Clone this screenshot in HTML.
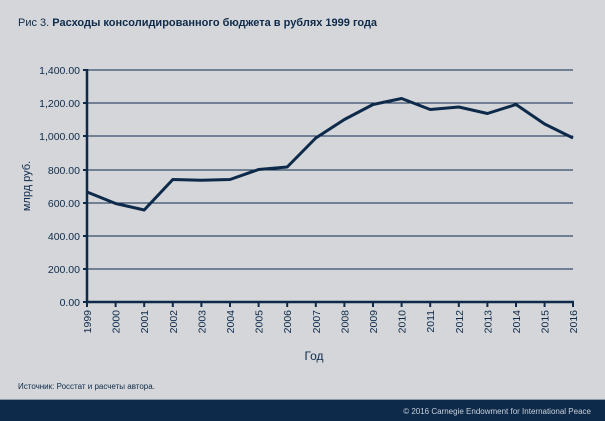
<!DOCTYPE html>
<html><head><meta charset="utf-8"><style>
body{margin:0;width:605px;height:421px;background:#d4d6d9;overflow:hidden;font-family:"Liberation Sans","DejaVu Sans",sans-serif;}
</style></head><body>
<svg width="605" height="421" xmlns="http://www.w3.org/2000/svg" style="position:absolute;left:0;top:0">
<rect width="605" height="421" fill="#d4d6d9"/>
<text x="18" y="26" font-size="11" fill="#0e2a4a">Рис 3. <tspan font-weight="bold">Расходы консолидированного бюджета в рублях 1999 года</tspan></text>
<g stroke="#0e2a4a" stroke-width="1">
<line x1="87" y1="70" x2="573" y2="70"/><line x1="87" y1="103" x2="573" y2="103"/>
<line x1="87" y1="136" x2="573" y2="136"/><line x1="87" y1="170" x2="573" y2="170"/>
<line x1="87" y1="203" x2="573" y2="203"/><line x1="87" y1="236" x2="573" y2="236"/>
<line x1="87" y1="269" x2="573" y2="269"/>
</g>
<g stroke="#0e2a4a" stroke-width="2.5" fill="none">
<line x1="87" y1="69" x2="87" y2="303"/><line x1="86" y1="302" x2="574" y2="302"/>
</g>
<g stroke="#0e2a4a" stroke-width="2">
<line x1="83" y1="70" x2="87" y2="70"/><line x1="83" y1="103" x2="87" y2="103"/><line x1="83" y1="136" x2="87" y2="136"/><line x1="83" y1="170" x2="87" y2="170"/><line x1="83" y1="203" x2="87" y2="203"/><line x1="83" y1="236" x2="87" y2="236"/><line x1="83" y1="269" x2="87" y2="269"/><line x1="83" y1="302" x2="87" y2="302"/>
</g>
<g font-size="10.5" fill="#0e2a4a" text-anchor="end">
<text x="80" y="74">1,400.00</text><text x="80" y="107">1,200.00</text><text x="80" y="140">1,000.00</text><text x="80" y="174">800.00</text><text x="80" y="207">600.00</text><text x="80" y="240">400.00</text><text x="80" y="273">200.00</text><text x="80" y="306">0.00</text>
</g>
<g id="xt" font-size="10.5" fill="#0e2a4a" text-anchor="end">
</g>
<text transform="translate(30,186) rotate(-90)" font-size="11" fill="#0e2a4a" text-anchor="middle">млрд руб.</text>
<text x="314" y="360" font-size="12" fill="#0e2a4a" text-anchor="middle">Год</text>
<text x="18" y="389" font-size="8" fill="#0e2a4a">Источник: Росстат и расчеты автора.</text>
<polyline fill="none" stroke="#0e2a4a" stroke-width="3" stroke-linejoin="round" points="87,192 115.6,203.5 144.2,210 172.8,179.5 201.4,180.3 230,179.5 258.6,169.5 287.2,167 315.8,138 344.4,119.5 373,104.5 401.6,98.5 430.2,109.5 458.8,107 487.4,113.5 516,104.5 544.6,124 573,138"/>
<rect x="0" y="400" width="605" height="21" fill="#0e2a4a"/>
<rect x="0" y="399" width="605" height="1" fill="#8a96a6"/>
<text x="591" y="414" font-size="8" fill="#c8d0da" text-anchor="end">© 2016 Carnegie Endowment for International Peace</text>
</svg>
<svg width="605" height="421" style="position:absolute;left:0;top:0">
<g stroke="#0e2a4a" stroke-width="2">
<line x1="87" y1="302" x2="87" y2="307"/><line x1="115.6" y1="302" x2="115.6" y2="307"/><line x1="144.2" y1="302" x2="144.2" y2="307"/><line x1="172.8" y1="302" x2="172.8" y2="307"/><line x1="201.4" y1="302" x2="201.4" y2="307"/><line x1="230" y1="302" x2="230" y2="307"/><line x1="258.6" y1="302" x2="258.6" y2="307"/><line x1="287.2" y1="302" x2="287.2" y2="307"/><line x1="315.8" y1="302" x2="315.8" y2="307"/><line x1="344.4" y1="302" x2="344.4" y2="307"/><line x1="373" y1="302" x2="373" y2="307"/><line x1="401.6" y1="302" x2="401.6" y2="307"/><line x1="430.2" y1="302" x2="430.2" y2="307"/><line x1="458.8" y1="302" x2="458.8" y2="307"/><line x1="487.4" y1="302" x2="487.4" y2="307"/><line x1="516" y1="302" x2="516" y2="307"/><line x1="544.6" y1="302" x2="544.6" y2="307"/><line x1="573" y1="302" x2="573" y2="307"/>
</g>
<g font-size="10.5" fill="#0e2a4a" text-anchor="end">
<text transform="translate(91,310) rotate(-90)">1999</text>
<text transform="translate(119.6,310) rotate(-90)">2000</text>
<text transform="translate(148.2,310) rotate(-90)">2001</text>
<text transform="translate(176.8,310) rotate(-90)">2002</text>
<text transform="translate(205.4,310) rotate(-90)">2003</text>
<text transform="translate(234,310) rotate(-90)">2004</text>
<text transform="translate(262.6,310) rotate(-90)">2005</text>
<text transform="translate(291.2,310) rotate(-90)">2006</text>
<text transform="translate(319.8,310) rotate(-90)">2007</text>
<text transform="translate(348.4,310) rotate(-90)">2008</text>
<text transform="translate(377,310) rotate(-90)">2009</text>
<text transform="translate(405.6,310) rotate(-90)">2010</text>
<text transform="translate(434.2,310) rotate(-90)">2011</text>
<text transform="translate(462.8,310) rotate(-90)">2012</text>
<text transform="translate(491.4,310) rotate(-90)">2013</text>
<text transform="translate(520,310) rotate(-90)">2014</text>
<text transform="translate(548.6,310) rotate(-90)">2015</text>
<text transform="translate(577,310) rotate(-90)">2016</text>
</g>
</svg>
</body></html>
